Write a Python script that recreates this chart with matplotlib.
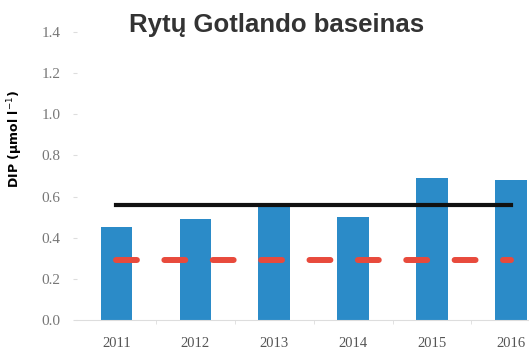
import matplotlib.pyplot as plt

years = ["2011", "2012", "2013", "2014", "2015", "2016"]
dip = [0.45, 0.49, 0.57, 0.50, 0.69, 0.68]
mean_line = [0.56, 0.56, 0.56, 0.56, 0.56, 0.56]
good_status = [0.29, 0.29, 0.29, 0.29, 0.29, 0.29]
y_ticks = [0.0, 0.2, 0.4, 0.6, 0.8, 1.0, 1.2, 1.4]

fig = plt.figure(figsize=(5.29, 3.51), dpi=100)
ax = fig.add_axes([77 / 529, 31 / 351, 1 - 77 / 529, 288 / 351])

x = range(len(years))
ax.bar(x, dip, width=0.4, color="#2b8bc8", zorder=2)
ax.plot(x, mean_line, color="#111111", linewidth=3, zorder=3)
ax.plot(x, good_status, color="#e84a3c", linewidth=4.3,
        dashes=(3.5, 4.6), dash_capstyle="round", zorder=4)

ax.set_xlim(-0.5, 5.23)
ax.set_ylim(0, 1.4)
ax.set_xticks(list(x))
ax.set_xticklabels(years, family="Liberation Serif", fontsize=10.5, color="#555555")
ax.set_xticks([i + 0.5 for i in range(5)], minor=True)
ax.set_yticks(y_ticks)
ax.set_yticklabels([f"{v:.1f}" for v in y_ticks],
                   family="Liberation Serif", fontsize=11, color="#777777")
ax.tick_params(axis="y", length=3, color="#dddddd", pad=9)
ax.tick_params(axis="x", which="major", length=0, pad=12)
ax.tick_params(axis="x", which="minor", length=3, color="#dddddd")

for side in ["top", "right", "left"]:
    ax.spines[side].set_visible(False)
ax.spines["bottom"].set_color("#dddddd")

ax.set_ylabel("DIP (µmol l$^{-1}$)", fontsize=9, fontweight="bold")
ax.yaxis.set_label_coords(-0.115, 0.63)
fig.text(277 / 529, 1 - 32 / 351, "Rytų Gotlando baseinas", ha="center", va="baseline",
         fontsize=18.5, fontweight="bold", family="Liberation Sans", color="#333333")

fig.savefig("out.png", dpi=100)
